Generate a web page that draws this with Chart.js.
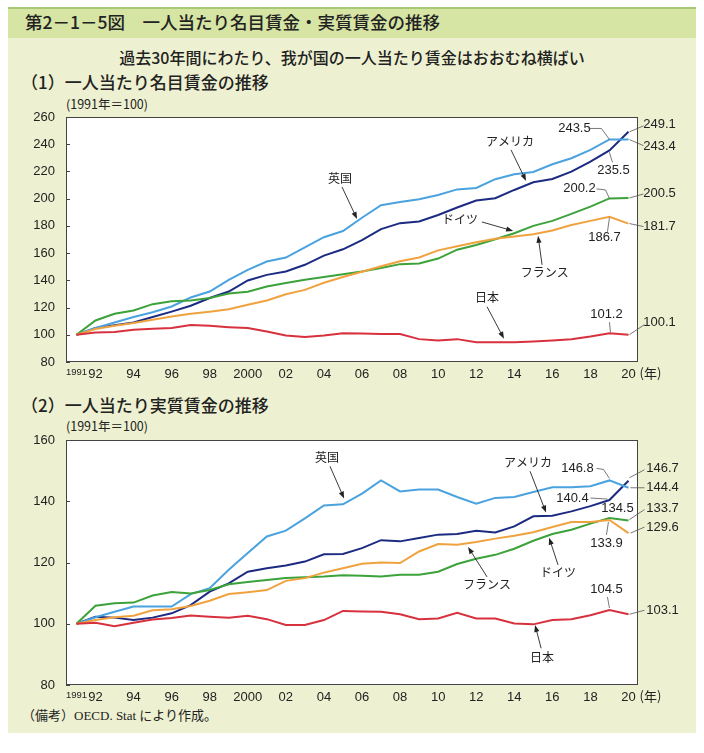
<!DOCTYPE html>
<html>
<head>
<meta charset="utf-8">
<script src="https://cdn.jsdelivr.net/npm/chart.js@4.4.1/dist/chart.umd.min.js"></script>
<style>
  body { margin: 0; width: 704px; height: 753px; background: #fff; position: relative; overflow: hidden;
         font-family: "Noto Sans CJK JP", sans-serif; color: #222; }
  .abs { position: absolute; white-space: nowrap; }
  #panel { left: 8px; top: 7px; width: 688px; height: 726px; background: #eef1d1; }
  #band { left: 8px; top: 7px; width: 688px; height: 29px; background: #d6e4a4; border-top: 2px solid #a9c873; }
  #title { left: 25px; top: 11px; font-size: 17.5px; line-height: 22px; font-weight: 500; }
  #sub { left: 0; width: 704px; top: 46px; text-align: center; font-size: 16px; line-height: 22px; font-weight: 500; }
  .head { left: 21px; font-size: 17px; line-height: 22px; font-weight: 500; }
  .unit { left: 66px; font-size: 12.5px; line-height: 16px; }
  #foot { left: 22px; top: 707px; font-size: 13px; line-height: 18px; font-family: "Liberation Serif", "DejaVu Serif", "Noto Sans CJK JP", serif; }
  .box { position: absolute; left: 0; width: 704px; height: 300px; }
</style>
</head>
<body>
<div class="abs" id="panel"></div>
<div class="abs" id="band"></div>
<div class="abs" id="title">第2－1－5図　一人当たり名目賃金・実質賃金の推移</div>
<div class="abs" id="sub">過去30年間にわたり、我が国の一人当たり賃金はおおむね横ばい</div>
<div class="abs head" style="top:71px">（1）一人当たり名目賃金の推移</div>
<div class="abs unit" style="top:96px">(1991年＝100)</div>
<div class="abs head" style="top:394px">（2）一人当たり実質賃金の推移</div>
<div class="abs unit" style="top:418px">(1991年＝100)</div>
<div class="abs" id="foot">（備考）OECD. Stat により作成。</div>

<div class="box" style="top:100px"><canvas id="nominalChart"></canvas></div>
<div class="box" style="top:423px"><canvas id="realChart"></canvas></div>

<script>
// ============================
// DATA
// ============================
const YEARS = [1991, 1992, 1993, 1994, 1995, 1996, 1997, 1998, 1999, 2000,
               2001, 2002, 2003, 2004, 2005, 2006, 2007, 2008, 2009, 2010,
               2011, 2012, 2013, 2014, 2015, 2016, 2017, 2018, 2019, 2020];
const TICK_LABELS = ["1991", "92", "", "94", "", "96", "", "98", "", "2000",
                     "", "02", "", "04", "", "06", "", "08", "", "10",
                     "", "12", "", "14", "", "16", "", "18", "", "20"];

// (1) nominal wage per person, 1991 = 100
const NOMINAL_US = [100, 105, 107, 109, 113, 117, 121.3, 127, 131.8, 139.9, 144, 146.5, 151.4, 158.2, 162.8,
                    169.5, 177.6, 182, 183.2, 188, 193.5, 198.6, 200.3, 206.4, 212, 214.5, 219.9, 227.2, 235.5, 249.1];
const NOMINAL_UK = [100, 105, 109, 113, 116.6, 120.8, 127.4, 131.8, 140.4, 147.7, 153.8, 156.7, 164.2, 171.7, 176.2,
                    186, 195.2, 197.5, 199.6, 202.7, 206.8, 207.9, 214.3, 218, 219.6, 225.3, 229.7, 235.8, 243.5, 243.4];
const NOMINAL_DE = [100, 110.5, 115.4, 117.9, 122.5, 124.7, 125.2, 127, 130.3, 131.6, 135.5, 138, 140.4, 142.4, 144.5,
                    146.5, 149, 151.9, 152.3, 156, 162.5, 166, 170.2, 174.6, 180, 183.7, 188.8, 194.2, 200.2, 200.5];
const NOMINAL_FR = [100, 104.2, 106.6, 108.6, 111, 113.5, 115.4, 117, 118.8, 122, 125.2, 129.8, 133, 138.2, 142.5,
                    146.3, 150.4, 154, 156.8, 162, 165, 168, 170.5, 172.2, 173.9, 176.6, 180.7, 183.7, 186.7, 181.7];
const NOMINAL_JP = [100, 101.7, 102, 103.7, 104.4, 104.9, 107.1, 106.6, 105.6, 104.9, 102.4, 99.4, 98.4, 99.5, 101.2,
                    101, 100.6, 100.6, 96.8, 95.8, 96.8, 94.6, 94.6, 94.6, 95.1, 95.8, 96.8, 98.8, 101.2, 100.1];

// (2) real wage per person, 1991 = 100
const REAL_US = [100, 102.3, 102, 101.2, 102, 103.4, 106.1, 110.5, 113.2, 117, 118.1, 119, 120.3, 122.7, 122.8,
                 124.7, 127.3, 126.9, 128, 129.1, 129.3, 130.4, 129.8, 131.8, 135.1, 135.3, 136.7, 138.4, 140.4, 146.7];
const REAL_UK = [100, 102.1, 103.9, 105.6, 105.6, 105.6, 109.7, 111.6, 117.6, 123.1, 128.5, 130.4, 134.4, 138.6, 139,
                 142.5, 146.8, 143.2, 143.8, 143.8, 141.4, 139.2, 141.1, 141.4, 143, 144.6, 144.6, 144.9, 146.8, 144.4];
const REAL_DE = [100, 105.9, 106.7, 106.9, 109.2, 110.4, 109.9, 111, 112.9, 113.6, 114.3, 114.9, 115.2, 115.4, 115.8,
                 115.7, 115.4, 116, 116, 117, 119.5, 121.2, 122.5, 124.5, 127.1, 129.3, 130.7, 132.7, 134.5, 133.7];
const REAL_FR = [100, 101.2, 102.1, 102.6, 104.4, 104.7, 105.8, 107.5, 109.7, 110.3, 111, 114, 114.9, 116.7, 118.1,
                 119.6, 120, 119.8, 123.6, 126, 125.8, 126.7, 127.8, 128.7, 129.9, 131.6, 133.2, 133.2, 133.9, 129.6];
const REAL_JP = [100, 100.3, 99.2, 100.3, 101.4, 101.9, 102.7, 102.3, 102, 102.6, 101.5, 99.6, 99.6, 101.2, 104.2,
                 104, 103.9, 103.1, 101.5, 101.7, 103.6, 101.7, 101.7, 100.1, 99.8, 101.2, 101.5, 102.8, 104.5, 103.1];

// ============================
// STYLE
// ============================
const COLORS = { uk: "#4aa2de", us: "#1c2b82", de: "#3ca23a", fr: "#f0a23e", jp: "#d8313e" };
const JP_FONT = '"Noto Sans CJK JP", sans-serif';
const NUM_FONT = '"Liberation Sans", Arial, sans-serif';

// country labels with arrows (data coordinates)
const NOMINAL_NOTES = [
    { t: "英国", at: [2004.85, 215.2], from: [2004.95, 208.6], to: [2005.74, 185.1] },
    { t: "アメリカ", at: [2013.78, 241.7], from: [2013.83, 235.8], to: [2014.62, 213] },
    { t: "ドイツ", at: [2011.15, 184.4], from: [2012.3, 182.9], to: [2013.94, 176.3] },
    { t: "フランス", at: [2015.6, 145.5], from: [2015.46, 151.4], to: [2015.25, 172.7] },
    { t: "日本", at: [2012.57, 127.2], from: [2012.57, 120.6], to: [2013.46, 97.1] }
];
const REAL_NOTES = [
    { t: "英国", at: [2004.16, 154.3], from: [2004.32, 151.4], to: [2005.06, 140.9] },
    { t: "アメリカ", at: [2014.72, 152.7], from: [2014.83, 149.8], to: [2015.67, 136.3] },
    { t: "ドイツ", at: [2016.3, 116.6], from: [2016.3, 119.2], to: [2015.83, 128.1] },
    { t: "フランス", at: [2012.57, 112.7], from: [2012.57, 115.3], to: [2011.57, 125.1] },
    { t: "日本", at: [2015.46, 89.1], from: [2015.41, 92], to: [2015.09, 99.6] }
];

// value callouts: pixel offsets from the data point
const NOMINAL_CALLOUTS = [
    { k: "uk", yr: 2019, dx: -35, dy: -11, path: [[-21, -11], [-8, -11], [0, 0]] },
    { k: "us", yr: 2019, dx: 4, dy: 20, path: [[0, 2], [3, 12]] },
    { k: "us", yr: 2020, dx: 31, dy: -7, path: [[1, 0], [15, -6]] },
    { k: "uk", yr: 2020, dx: 31, dy: 7, path: [[1, 0], [15, 6]] },
    { k: "de", yr: 2019, dx: -30, dy: -9.5, path: [[-13, -9.5], [-4, -8.5], [0, 0]] },
    { k: "de", yr: 2020, dx: 31, dy: -5, path: [[1, 0], [15, -4]] },
    { k: "fr", yr: 2019, dx: -5, dy: 21, path: [[0, 1], [-2, 15]] },
    { k: "fr", yr: 2020, dx: 31, dy: 3, path: [[1, 0], [15, 3]] },
    { k: "jp", yr: 2019, dx: -3, dy: -19, path: [[1, -1], [0, -11]] },
    { k: "jp", yr: 2020, dx: 31, dy: -12, path: [[1, 0], [16, -10]] }
];
const REAL_CALLOUTS = [
    { k: "uk", yr: 2019, dx: -32, dy: -12, path: [[-13, -12], [-6, -11], [0, -2]] },
    { k: "us", yr: 2019, dx: -37, dy: -1.5, path: [[-19, -2], [-2, -1]] },
    { k: "us", yr: 2020, dx: 34, dy: -12, path: [[1, -3], [16, -11]] },
    { k: "uk", yr: 2020, dx: 34, dy: 0, path: [[2, 0], [16, 0]] },
    { k: "de", yr: 2019, dx: 8, dy: -10, path: [] },
    { k: "fr", yr: 2019, dx: -3, dy: 23, path: [[-1, 2], [-3, 15]] },
    { k: "de", yr: 2020, dx: 34, dy: -12, path: [[1, -1], [16, -11]] },
    { k: "fr", yr: 2020, dx: 34, dy: -6, path: [[2, 0], [16, -6]] },
    { k: "jp", yr: 2019, dx: -3, dy: -21, path: [[0, -2], [-2, -13]] },
    { k: "jp", yr: 2020, dx: 34, dy: -4, path: [[1, 0], [16, -4]] }
];

// ============================
// DRAWING HELPERS
// ============================
function arrow(ctx, x1, y1, x2, y2) {
    const a = Math.atan2(y2 - y1, x2 - x1);
    ctx.beginPath();
    ctx.moveTo(x1, y1);
    ctx.lineTo(x2 - 5 * Math.cos(a), y2 - 5 * Math.sin(a));
    ctx.stroke();
    ctx.beginPath();
    ctx.moveTo(x2, y2);
    ctx.lineTo(x2 - 7 * Math.cos(a) + 2.6 * Math.sin(a), y2 - 7 * Math.sin(a) - 2.6 * Math.cos(a));
    ctx.lineTo(x2 - 7 * Math.cos(a) - 2.6 * Math.sin(a), y2 - 7 * Math.sin(a) + 2.6 * Math.cos(a));
    ctx.closePath();
    ctx.fill();
}

function decorPlugin(notes, callouts) {
    return {
        id: "decor",
        beforeDraw(chart) {
            const { ctx, chartArea: a } = chart;
            ctx.save();
            ctx.fillStyle = "#fff";
            ctx.fillRect(a.left, a.top, a.right - a.left, a.bottom - a.top);
            ctx.restore();
        },
        afterDatasetsDraw(chart) {
            const { ctx, chartArea: a, scales: { x, y } } = chart;
            ctx.save();

            // frame and inward y ticks
            ctx.strokeStyle = "#444";
            ctx.lineWidth = 1;
            ctx.strokeRect(a.left + 0.5, a.top + 0.5, a.right - a.left - 1, a.bottom - a.top - 1);
            y.ticks.forEach(t => {
                const py = Math.round(y.getPixelForValue(t.value)) + 0.5;
                ctx.beginPath();
                ctx.moveTo(a.left, py);
                ctx.lineTo(a.left + 4, py);
                ctx.stroke();
            });

            // year unit after the last tick
            ctx.fillStyle = "#222";
            ctx.font = "13px " + JP_FONT;
            ctx.textBaseline = "middle";
            ctx.textAlign = "left";
            ctx.fillText("(年)", x.getPixelForValue(2020) + 11, a.bottom + 11);

            // country names with arrows
            ctx.strokeStyle = "#222";
            ctx.fillStyle = "#222";
            ctx.lineWidth = 0.9;
            ctx.textAlign = "center";
            ctx.font = "12px " + JP_FONT;
            notes.forEach(n => {
                ctx.fillText(n.t, x.getPixelForValue(n.at[0]), y.getPixelForValue(n.at[1]));
                arrow(ctx, x.getPixelForValue(n.from[0]), y.getPixelForValue(n.from[1]),
                      x.getPixelForValue(n.to[0]), y.getPixelForValue(n.to[1]));
            });

            // value callouts
            ctx.font = "13px " + NUM_FONT;
            ctx.strokeStyle = "#555";
            ctx.lineWidth = 0.8;
            callouts.forEach(c => {
                const ds = chart.data.datasets.find(d => d.key === c.k);
                const i = YEARS.indexOf(c.yr);
                const v = ds.data[i].y;
                const px = x.getPixelForValue(c.yr);
                const py = y.getPixelForValue(v);
                ctx.fillText(v.toFixed(1), px + c.dx, py + c.dy);
                if (c.path.length) {
                    ctx.beginPath();
                    c.path.forEach((p, j) => j ? ctx.lineTo(px + p[0], py + p[1]) : ctx.moveTo(px + p[0], py + p[1]));
                    ctx.stroke();
                }
            });
            ctx.restore();
        }
    };
}

function series(key, values) {
    return {
        key: key,
        data: YEARS.map((yr, i) => ({ x: yr, y: values[i] })),
        borderColor: COLORS[key],
        borderWidth: 2,
        pointRadius: 0,
        tension: 0
    };
}

function makeChart(id, sets, yMin, yMax, notes, callouts) {
    new Chart(document.getElementById(id), {
        type: "line",
        data: { datasets: sets },
        options: {
            responsive: true,
            maintainAspectRatio: false,
            animation: false,
            events: [],
            layout: { padding: { left: 26, right: 66, top: 17, bottom: 8 } },
            plugins: { legend: { display: false }, tooltip: { enabled: false } },
            scales: {
                x: {
                    type: "linear",
                    min: 1990.45,
                    max: 2020.5,
                    grid: { display: false },
                    border: { display: false },
                    afterBuildTicks: s => { s.ticks = YEARS.map(v => ({ value: v })); },
                    afterFit: s => { s.height = 30; },
                    ticks: {
                        autoSkip: false,
                        maxRotation: 0,
                        padding: -3,
                        color: "#222",
                        font: c => (c.tick && c.tick.value === 1991)
                            ? { family: '"Liberation Sans Narrow", ' + NUM_FONT, size: 9.5, lineHeight: 1.2 }
                            : { family: NUM_FONT, size: 13, lineHeight: 1.2 },
                        callback: v => TICK_LABELS[YEARS.indexOf(v)]
                    }
                },
                y: {
                    min: yMin,
                    max: yMax,
                    grid: { display: false },
                    border: { display: false },
                    afterFit: s => { s.width = 40; },
                    ticks: { stepSize: 20, padding: 3, color: "#222", font: { family: NUM_FONT, size: 13 } }
                }
            }
        },
        plugins: [decorPlugin(notes, callouts)]
    });
}

// ============================
// CHARTS
// ============================
makeChart("nominalChart", [
    series("jp", NOMINAL_JP), series("fr", NOMINAL_FR), series("de", NOMINAL_DE),
    series("uk", NOMINAL_UK), series("us", NOMINAL_US)
], 80, 260, NOMINAL_NOTES, NOMINAL_CALLOUTS);

makeChart("realChart", [
    series("jp", REAL_JP), series("fr", REAL_FR), series("de", REAL_DE),
    series("uk", REAL_UK), series("us", REAL_US)
], 80, 160, REAL_NOTES, REAL_CALLOUTS);
</script>
</body>
</html>
